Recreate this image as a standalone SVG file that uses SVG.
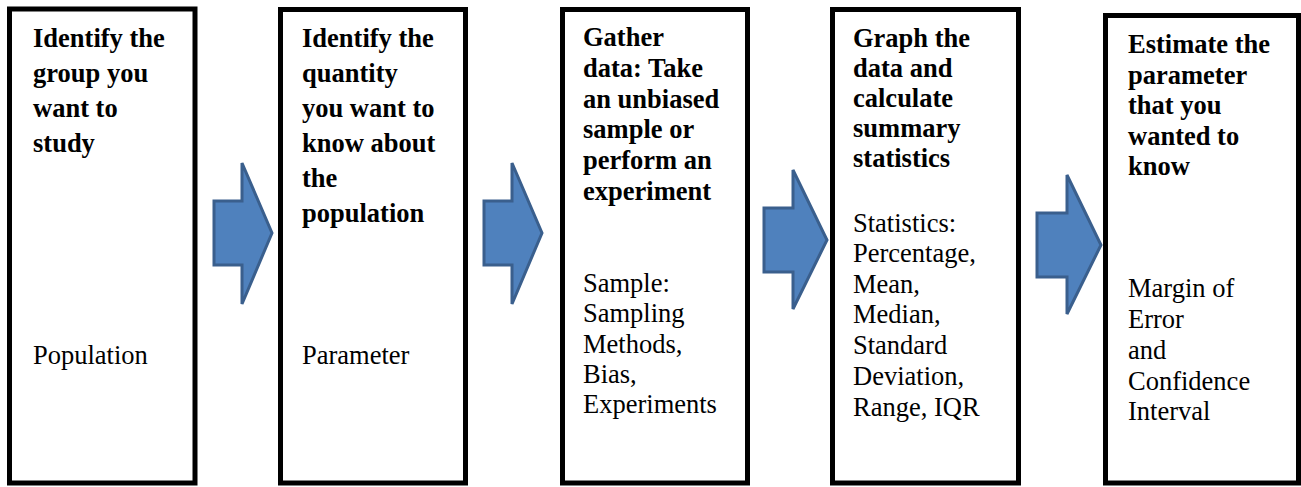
<svg xmlns="http://www.w3.org/2000/svg" width="1301" height="487" viewBox="0 0 1301 487">
<style>
.box{fill:#fff;stroke:#000;stroke-width:5}
.b{font-size:26.5px;font-weight:bold;fill:#000}
.n{font-size:26.5px;fill:#000}
.arr{fill:#4f81bd;stroke:#3a5f8d;stroke-width:3;stroke-linejoin:miter}
</style>
<rect width="1301" height="487" fill="#fff"/>
<g font-family="Liberation Serif, DejaVu Serif, serif">
<g id="node1">
<rect class="box" x="9.5" y="9" width="185.5" height="474"/>
<text class="b"><tspan x="33" y="47">Identify the</tspan><tspan x="33" y="82">group you</tspan><tspan x="33" y="117">want to</tspan><tspan x="33" y="152">study</tspan></text>
<text class="n" x="33" y="364">Population</text>
</g>
<g id="node2">
<rect class="box" x="280.5" y="9.5" width="185" height="473.5"/>
<text class="b"><tspan x="302" y="47">Identify the</tspan><tspan x="302" y="82">quantity</tspan><tspan x="302" y="117">you want to</tspan><tspan x="302" y="152">know about</tspan><tspan x="302" y="187">the</tspan><tspan x="302" y="222">population</tspan></text>
<text class="n" x="302" y="364">Parameter</text>
</g>
<g id="node3">
<rect class="box" x="562.5" y="9.5" width="185" height="473.5"/>
<text class="b"><tspan x="583" y="46">Gather</tspan><tspan x="583" y="77">data: Take</tspan><tspan x="583" y="108">an unbiased</tspan><tspan x="583" y="138">sample or</tspan><tspan x="583" y="169">perform an</tspan><tspan x="583" y="200">experiment</tspan></text>
<text class="n"><tspan x="583" y="292">Sample:</tspan><tspan x="583" y="322">Sampling</tspan><tspan x="583" y="353">Methods,</tspan><tspan x="583" y="383">Bias,</tspan><tspan x="583" y="413">Experiments</tspan></text>
</g>
<g id="node4">
<rect class="box" x="832.5" y="9.5" width="186" height="473.5"/>
<text class="b"><tspan x="853" y="47">Graph the</tspan><tspan x="853" y="77">data and</tspan><tspan x="853" y="107">calculate</tspan><tspan x="853" y="137">summary</tspan><tspan x="853" y="167">statistics</tspan></text>
<text class="n"><tspan x="853" y="232">Statistics:</tspan><tspan x="853" y="262">Percentage,</tspan><tspan x="853" y="293">Mean,</tspan><tspan x="853" y="323">Median,</tspan><tspan x="853" y="354">Standard</tspan><tspan x="853" y="385">Deviation,</tspan><tspan x="853" y="416">Range, IQR</tspan></text>
</g>
<g id="node5">
<rect class="box" x="1105.5" y="15.5" width="193" height="467.5"/>
<text class="b"><tspan x="1128" y="53">Estimate the</tspan><tspan x="1128" y="83.5">parameter</tspan><tspan x="1128" y="114">that you</tspan><tspan x="1128" y="144.5">wanted to</tspan><tspan x="1128" y="175">know</tspan></text>
<text class="n"><tspan x="1128" y="297">Margin of</tspan><tspan x="1128" y="328">Error</tspan><tspan x="1128" y="359">and</tspan><tspan x="1128" y="390">Confidence</tspan><tspan x="1128" y="420">Interval</tspan></text>
</g>
</g>
<g id="connectors">
<polygon class="arr" points="214,201 242,201 242,163 272,233 242,304 242,265 214,265"/>
<polygon class="arr" points="484,201 512,201 512,163 542,233 512,304 512,265 484,265"/>
<polygon class="arr" points="764,208 793,208 793,170 827,240 793,309 793,272 764,272"/>
<polygon class="arr" points="1037,213 1067,213 1067,175 1101,245 1067,314 1067,277 1037,277"/>
</g>
</svg>
